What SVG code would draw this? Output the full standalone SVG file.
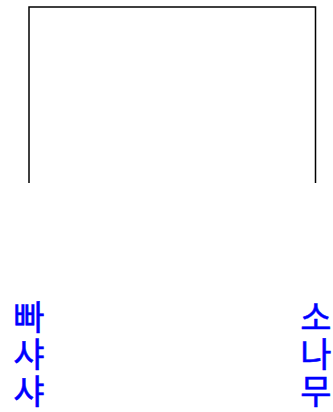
<svg xmlns="http://www.w3.org/2000/svg" width="333" height="412" viewBox="0 0 333 412">
<style>
.lbl{font-family:"Noto Sans CJK KR","Noto Sans",sans-serif;font-size:34px;fill:#0000ff;stroke:#0000ff;stroke-width:0.5;text-anchor:middle}
.edge{fill:none;stroke:#000;stroke-width:1.5}
</style>
<rect width="333" height="412" fill="#fff"/>
<g id="connectors">
<path class="edge" d="M29,183 V7 H315.5 V183"/>
</g>
<g id="node-left">
<text class="lbl" x="29" y="330"><tspan x="29" y="330">빠</tspan><tspan x="29" y="367">샤</tspan><tspan x="29" y="404">샤</tspan></text>
</g>
<g id="node-right">
<text class="lbl" x="316" y="330"><tspan x="316" y="330">소</tspan><tspan x="316" y="367">나</tspan><tspan x="316" y="404">무</tspan></text>
</g>
</svg>
